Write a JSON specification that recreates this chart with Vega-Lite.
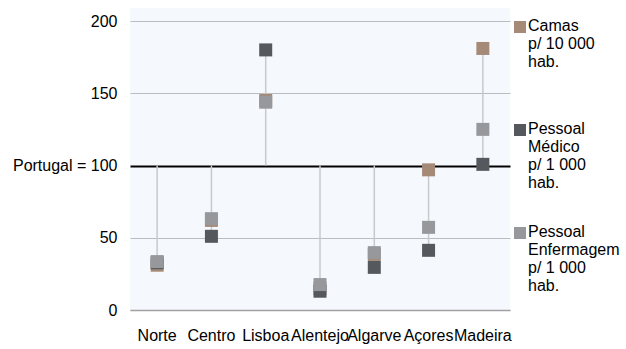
{
  "$schema": "https://vega.github.io/schema/vega-lite/v6.json",
  "autosize": {"type": "none"},
  "width": 380,
  "height": 302,
  "padding": {"left": 130, "top": 8, "right": 116, "bottom": 39},
  "background": "white",
  "config": {
    "view": {"fill": "#f5f9fd", "stroke": null},
    "font": "Liberation Sans",
    "axis": {"labelFont": "Liberation Sans", "labelFontSize": 16, "labelColor": "#000000", "titleFont": "Liberation Sans"},
    "legend": {"labelFont": "Liberation Sans", "labelFontSize": 16, "labelColor": "#000000"}
  },
  "data": {
    "values": [
      {"region": "Norte", "serie": "Camas p/ 10 000 hab.", "valor": 31},
      {"region": "Centro", "serie": "Camas p/ 10 000 hab.", "valor": 62},
      {"region": "Lisboa", "serie": "Camas p/ 10 000 hab.", "valor": 145},
      {"region": "Alentejo", "serie": "Camas p/ 10 000 hab.", "valor": 15},
      {"region": "Algarve", "serie": "Camas p/ 10 000 hab.", "valor": 38.5},
      {"region": "Açores", "serie": "Camas p/ 10 000 hab.", "valor": 97},
      {"region": "Madeira", "serie": "Camas p/ 10 000 hab.", "valor": 181},
      {"region": "Norte", "serie": "Pessoal Médico p/ 1 000 hab.", "valor": 32.7},
      {"region": "Centro", "serie": "Pessoal Médico p/ 1 000 hab.", "valor": 51},
      {"region": "Lisboa", "serie": "Pessoal Médico p/ 1 000 hab.", "valor": 180},
      {"region": "Alentejo", "serie": "Pessoal Médico p/ 1 000 hab.", "valor": 13},
      {"region": "Algarve", "serie": "Pessoal Médico p/ 1 000 hab.", "valor": 29.5},
      {"region": "Açores", "serie": "Pessoal Médico p/ 1 000 hab.", "valor": 41.3},
      {"region": "Madeira", "serie": "Pessoal Médico p/ 1 000 hab.", "valor": 100.8},
      {"region": "Norte", "serie": "Pessoal Enfermagem p/ 1 000 hab.", "valor": 33.5},
      {"region": "Centro", "serie": "Pessoal Enfermagem p/ 1 000 hab.", "valor": 63.2},
      {"region": "Lisboa", "serie": "Pessoal Enfermagem p/ 1 000 hab.", "valor": 143.8},
      {"region": "Alentejo", "serie": "Pessoal Enfermagem p/ 1 000 hab.", "valor": 17.6},
      {"region": "Algarve", "serie": "Pessoal Enfermagem p/ 1 000 hab.", "valor": 39.7},
      {"region": "Açores", "serie": "Pessoal Enfermagem p/ 1 000 hab.", "valor": 57.2},
      {"region": "Madeira", "serie": "Pessoal Enfermagem p/ 1 000 hab.", "valor": 125}
    ]
  },
  "encoding": {
    "x": {
      "field": "region", "type": "nominal",
      "sort": ["Norte", "Centro", "Lisboa", "Alentejo", "Algarve", "Açores", "Madeira"],
      "title": null,
      "axis": {"labelAngle": 0, "ticks": false, "domainColor": "#a0a0a4", "domainWidth": 1.5, "labelPadding": 17, "labelDx": 6, "labelOverlap": false, "labelBound": false, "grid": false}
    }
  },
  "layer": [
    {
      "transform": [
        {"aggregate": [{"op": "min", "field": "valor", "as": "mn"}, {"op": "max", "field": "valor", "as": "mx"}], "groupby": ["region"]},
        {"calculate": "min(datum.mn, 100)", "as": "lo"},
        {"calculate": "max(datum.mx, 100)", "as": "hi"}
      ],
      "mark": {"type": "rule", "color": "#c8c9cb", "strokeWidth": 1.5},
      "encoding": {
        "y": {
          "field": "lo", "type": "quantitative",
          "scale": {"domain": [0, 209], "nice": false, "zero": true},
          "title": null,
          "axis": {
            "values": [0, 50, 100, 150, 200],
            "domain": false, "ticks": false, "labelPadding": 13,
            "labelExpr": "datum.value === 100 ? 'Portugal = 100' : datum.label",
            "gridColor": {"condition": {"test": "datum.value === 100", "value": "#000000"}, "value": "#b9bcc0"},
            "gridWidth": {"condition": {"test": "datum.value === 100", "value": 2}, "value": 1.2},
            "gridOpacity": 1
          }
        },
        "y2": {"field": "hi"}
      }
    },
    {
      "mark": {"type": "square", "size": 169, "opacity": 1, "filled": true},
      "encoding": {
        "y": {"field": "valor", "type": "quantitative"},
        "color": {
          "field": "serie", "type": "nominal",
          "scale": {"domain": ["Camas p/ 10 000 hab.", "Pessoal Médico p/ 1 000 hab.", "Pessoal Enfermagem p/ 1 000 hab."], "range": ["#a58a78", "#55595d", "#97989c"]},
          "legend": {
            "title": null, "orient": "none", "legendX": 382, "legendY": 11,
            "symbolType": "square", "symbolSize": 144, "symbolOpacity": 1, "symbolStrokeWidth": 0,
            "labelLimit": 200, "labelOffset": 0, "rowPadding": 33, "gridAlign": "all", "labelBaseline": "top",
            "encode": {"labels": {"update": {"dy": {"value": -9}}}},
            "labelExpr": "datum.label === 'Camas p/ 10 000 hab.' ? ['Camas', 'p/ 10 000', 'hab.'] : datum.label === 'Pessoal Médico p/ 1 000 hab.' ? ['Pessoal', 'Médico', 'p/ 1 000', 'hab.'] : ['Pessoal', 'Enfermagem', 'p/ 1 000', 'hab.']"
          }
        }
      }
    }
  ]
}
